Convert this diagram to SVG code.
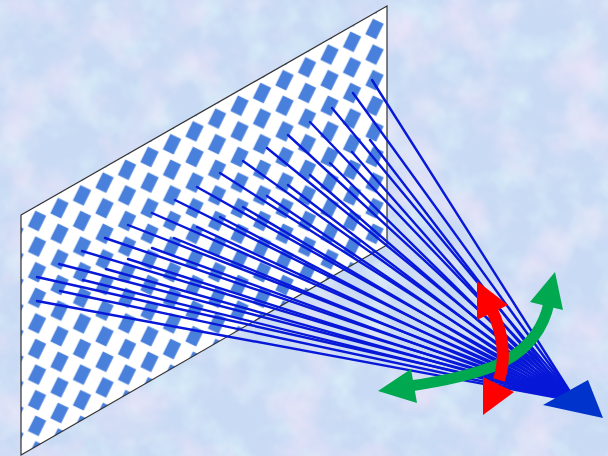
<svg xmlns="http://www.w3.org/2000/svg" width="608" height="456" viewBox="0 0 608 456">
<style>
.ray{stroke:#0818d8;stroke-width:2.4;fill:none;stroke-linecap:round}
.edge{fill:none;stroke:#333;stroke-width:1.2;stroke-linejoin:miter}
.tile{fill:#4a80dc}
</style>
<defs>
<filter id="tex" x="0" y="0" width="100%" height="100%">
<feTurbulence type="fractalNoise" baseFrequency="0.018" numOctaves="4" seed="7" result="n"/>
<feColorMatrix in="n" type="matrix" values="0 0 0 0 0.90  0 0 0 0 0.80  0 0 0 0 0.95  1.6 0 0 0 -0.72" result="pink"/>
<feTurbulence type="fractalNoise" baseFrequency="0.03" numOctaves="3" seed="21" result="n2"/>
<feColorMatrix in="n2" type="matrix" values="0 0 0 0 0.72  0 0 0 0 0.90  0 0 0 0 0.96  1.6 0 0 0 -0.72" result="cyan"/>
<feMerge><feMergeNode in="cyan"/><feMergeNode in="pink"/></feMerge>
</filter>
<filter id="soft" x="-5%" y="-5%" width="110%" height="110%">
<feGaussianBlur stdDeviation="0.6"/>
</filter>
<pattern id="chk" patternUnits="userSpaceOnUse" x="25.75" y="3.4" width="45" height="25.6">
<rect width="45" height="25.6" fill="#ffffff"/>
<rect class="tile" x="-6" y="-8.7" width="12" height="17.4" transform="translate(11.25,12.8) rotate(26)"/>
<rect class="tile" x="-6" y="-8.7" width="12" height="17.4" transform="translate(33.75,0) rotate(26)"/>
<rect class="tile" x="-6" y="-8.7" width="12" height="17.4" transform="translate(33.75,25.6) rotate(26)"/>
</pattern>
<clipPath id="pg"><polygon points="21,215 387,6 387,245 21,455"/></clipPath>
</defs>

<g id="background">
<rect width="608" height="456" fill="#c9daf4"/>
<rect width="608" height="456" filter="url(#tex)"/>
</g>

<g id="surface">
<g clip-path="url(#pg)">
<rect x="15" y="0" width="380" height="456" fill="url(#chk)" filter="url(#soft)"/>
</g>
<polygon class="edge" points="21,215 387,6 387,245 21,455"/>
</g>

<g id="rays">
<line class="ray" x1="372" y1="80" x2="574" y2="398"/>
<line class="ray" x1="353" y1="93" x2="574" y2="398"/>
<line class="ray" x1="332" y1="108" x2="574" y2="398"/>
<line class="ray" x1="310" y1="122" x2="574" y2="398"/>
<line class="ray" x1="288" y1="135" x2="574" y2="398"/>
<line class="ray" x1="267" y1="148" x2="574" y2="398"/>
<line class="ray" x1="243" y1="161" x2="574" y2="398"/>
<line class="ray" x1="220" y1="173" x2="574" y2="398"/>
<line class="ray" x1="197" y1="187" x2="574" y2="398"/>
<line class="ray" x1="175" y1="200" x2="574" y2="398"/>
<line class="ray" x1="152" y1="213" x2="574" y2="398"/>
<line class="ray" x1="128" y1="225" x2="574" y2="398"/>
<line class="ray" x1="105" y1="238" x2="574" y2="398"/>
<line class="ray" x1="82" y1="251" x2="574" y2="398"/>
<line class="ray" x1="59" y1="264" x2="574" y2="398"/>
<line class="ray" x1="37" y1="277" x2="574" y2="398"/>
<line class="ray" x1="370" y1="140" x2="570" y2="400"/>
<line class="ray" x1="352" y1="152" x2="570" y2="400"/>
<line class="ray" x1="330" y1="163" x2="570" y2="400"/>
<line class="ray" x1="310" y1="175" x2="570" y2="400"/>
<line class="ray" x1="288" y1="185" x2="570" y2="400"/>
<line class="ray" x1="267" y1="196" x2="570" y2="400"/>
<line class="ray" x1="243" y1="207" x2="570" y2="400"/>
<line class="ray" x1="220" y1="217" x2="570" y2="400"/>
<line class="ray" x1="197" y1="227" x2="570" y2="400"/>
<line class="ray" x1="174" y1="238" x2="570" y2="400"/>
<line class="ray" x1="152" y1="248" x2="570" y2="400"/>
<line class="ray" x1="128" y1="259" x2="570" y2="400"/>
<line class="ray" x1="106" y1="269" x2="570" y2="400"/>
<line class="ray" x1="83" y1="280" x2="570" y2="400"/>
<line class="ray" x1="60" y1="291" x2="570" y2="400"/>
<line class="ray" x1="37" y1="301" x2="570" y2="400"/>
</g>

<g id="blue-arrow">
<polygon points="543,405 588,380 603,418" fill="#0033cc"/>
</g>

<g id="green-arrow">
<path d="M 549 303 Q 540 345 497 365 Q 465 378 410 386" fill="none" stroke="#00a84f" stroke-width="11"/>
<polygon points="555,272 530,302 563,310" fill="#00a84f"/>
<polygon points="378,391 411,369 417,403" fill="#00a84f"/>
</g>

<g id="red-arrow">
<path d="M 490 306 Q 510 345 499 380" fill="none" stroke="#ff0000" stroke-width="12"/>
<polygon points="477,281 477,320 508,305" fill="#ff0000"/>
<polygon points="483,377 483,415 514,392" fill="#ff0000"/>
</g>
</svg>
